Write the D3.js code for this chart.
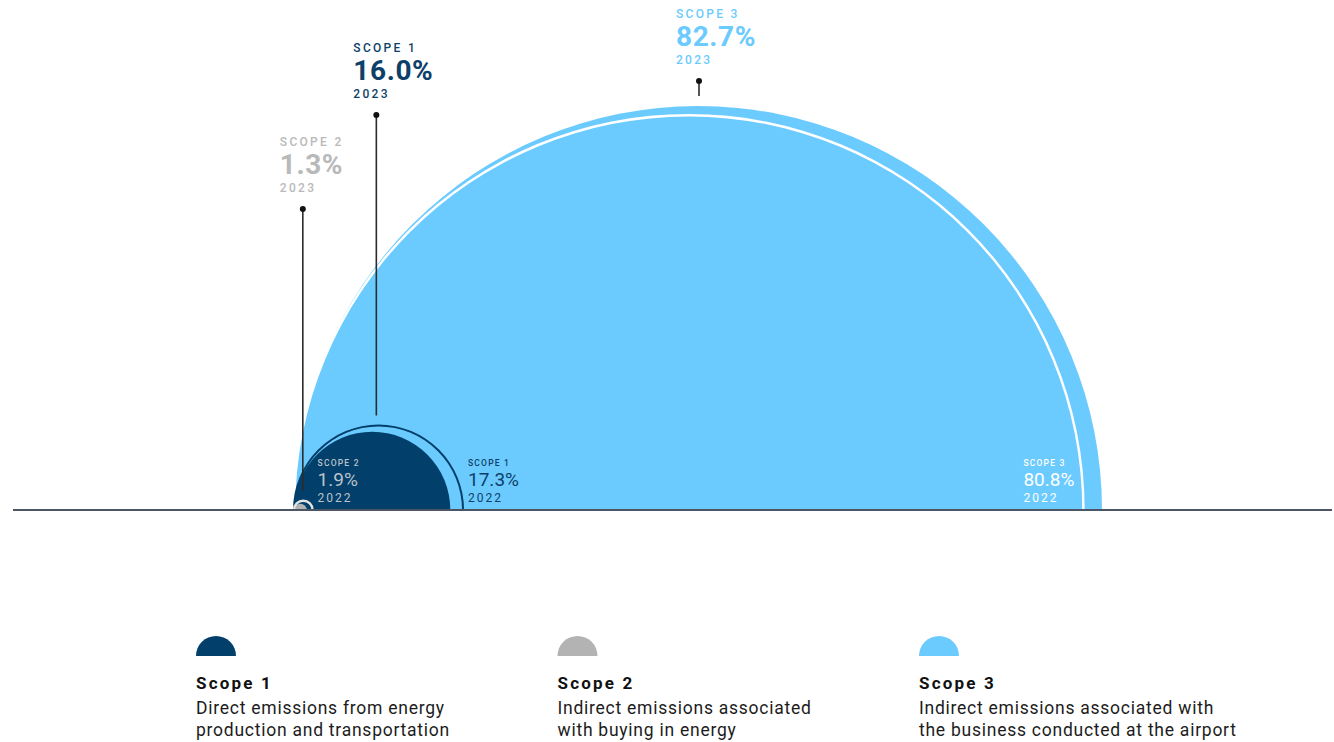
<!DOCTYPE html>
<html>
<head>
<meta charset="utf-8">
<script src="https://cdn.jsdelivr.net/npm/d3@7"></script>
<style>
  html, body { margin: 0; padding: 0; background: #ffffff; }
  svg { display: block; }
  text { font-family: Roboto, "Noto Sans", "DejaVu Sans", sans-serif; }
</style>
</head>
<body>
<svg id="chart" width="1334" height="742"></svg>
<script>
// ---------------- data ----------------
const scopes = ["Scope 1", "Scope 2", "Scope 3"];
const scopeCaps = ["SCOPE 1", "SCOPE 2", "SCOPE 3"];
const values2023 = [16.0, 1.3, 82.7];
const values2022 = [17.3, 1.9, 80.8];
const years = ["2023", "2022"];
const descriptions = [
  ["Direct emissions from energy", "production and transportation"],
  ["Indirect emissions associated", "with buying in energy"],
  ["Indirect emissions associated with", "the business conducted at the airport"]
];

// ---------------- styles / layout ----------------
const fillColors = ["#023f6b", "#b3b3b3", "#6ccbfe"];
const label2023Colors = ["#0d3f69", "#b9b9b9", "#6ccbfe"];
const ringColors = ["#023f6b", "#e4e4e4", "#ffffff"];
const label2022Colors = ["#0d3f69", "#bcc2c9", "#ffffff"];
const label2023Top = [52, 146, 18];      // baseline of the small "SCOPE" caption
const label2022Side = ["outside", "outside", "inside"];

const W = 1334, H = 742;
const baseY = 510;
const leftX = 294;
const maxR = 404;

const svg = d3.select("#chart");

const rScale = d3.scaleLinear()
  .domain([0, d3.max(values2023.concat(values2022))])
  .range([0, maxR]);

const halfArc = d3.arc().startAngle(-Math.PI / 2).endAngle(Math.PI / 2);

// draw order: largest first
const order = d3.range(scopes.length).sort((a, b) =>
  Math.max(values2023[b], values2022[b]) - Math.max(values2023[a], values2022[a]));

const gCircles = svg.append("g");
order.forEach(i => {
  const r23 = rScale(values2023[i]);
  const r22 = rScale(values2022[i]);
  // 2023 filled semicircle
  gCircles.append("path")
    .attr("transform", `translate(${leftX + r23},${baseY})`)
    .attr("d", halfArc({ innerRadius: 0, outerRadius: r23 }))
    .attr("fill", fillColors[i]);
  // 2022 outline semicircle
  const sw = i === 0 ? 2 : 2.4;
  gCircles.append("path")
    .attr("transform", `translate(${leftX + r22},${baseY})`)
    .attr("d", halfArc({ innerRadius: r22 - sw / 2, outerRadius: r22 + sw / 2 }))
    .attr("fill", ringColors[i]);
});

// ---------------- 2022 labels ----------------
const g22 = svg.append("g");
scopes.forEach((s, i) => {
  const r22 = rScale(values2022[i]);
  const ringRight = leftX + 2 * r22;
  const x = label2022Side[i] === "outside" ? ringRight + 5 : ringRight - 60;
  const g = g22.append("g").attr("fill", label2022Colors[i]);
  g.append("text").attr("x", x).attr("y", 466)
    .attr("font-size", 8.5).attr("letter-spacing", 1.2).attr("font-weight", 500)
    .text(scopeCaps[i]);
  g.append("text").attr("x", x).attr("y", 486)
    .attr("font-size", 19).attr("font-weight", 400)
    .text(values2022[i].toFixed(1) + "%");
  g.append("text").attr("x", x).attr("y", 502)
    .attr("font-size", 12).attr("letter-spacing", 2)
    .text(years[1]);
});

// ---------------- 2023 leader lines + labels ----------------
const g23 = svg.append("g");
scopes.forEach((s, i) => {
  const r23 = rScale(values2023[i]);
  const rMax = rScale(Math.max(values2023[i], values2022[i]));
  const lx = leftX + (r23 + rMax) / 2 + 1;
  const top = label2023Top[i];
  const dotY = top + 63;
  g23.append("line")
    .attr("x1", lx).attr("x2", lx)
    .attr("y1", dotY).attr("y2", baseY - rMax - 10)
    .attr("stroke", "#2b2b2b").attr("stroke-width", 1.6);
  g23.append("circle").attr("cx", lx).attr("cy", dotY).attr("r", 3).attr("fill", "#111");
  const tx = lx - 23;
  const g = g23.append("g").attr("fill", label2023Colors[i]);
  g.append("text").attr("x", tx).attr("y", top)
    .attr("font-size", 12).attr("letter-spacing", 2.3).attr("font-weight", 500)
    .text(scopeCaps[i]);
  g.append("text").attr("x", tx).attr("y", top + 28)
    .attr("font-size", 28).attr("font-weight", 700).attr("letter-spacing", 0.6)
    .text(values2023[i].toFixed(1) + "%");
  g.append("text").attr("x", tx).attr("y", top + 46)
    .attr("font-size", 12).attr("letter-spacing", 2.3).attr("font-weight", 500)
    .text(years[0]);
});

// ---------------- baseline ----------------
svg.append("line")
  .attr("x1", 13).attr("x2", 1332)
  .attr("y1", baseY).attr("y2", baseY)
  .attr("stroke", "#4b5563").attr("stroke-width", 2);

// ---------------- legend ----------------
const legendX = d3.scalePoint().domain(scopes).range([196, 919]);
const legR = 20;
const gLeg = svg.append("g");
scopes.forEach((s, i) => {
  const x = legendX(s);
  gLeg.append("path")
    .attr("transform", `translate(${x + legR},656)`)
    .attr("d", halfArc({ innerRadius: 0, outerRadius: legR }))
    .attr("fill", fillColors[i]);
  gLeg.append("text").attr("x", x).attr("y", 689)
    .attr("font-size", 17).attr("font-weight", 700).attr("letter-spacing", 2.2)
    .attr("fill", "#111").text(s);
  descriptions[i].forEach((line, j) => {
    gLeg.append("text").attr("x", x).attr("y", 714 + j * 22)
      .attr("font-size", 17.5).attr("letter-spacing", 0.75).attr("fill", "#1c1c1c")
      .text(line);
  });
});
</script>
</body>
</html>
